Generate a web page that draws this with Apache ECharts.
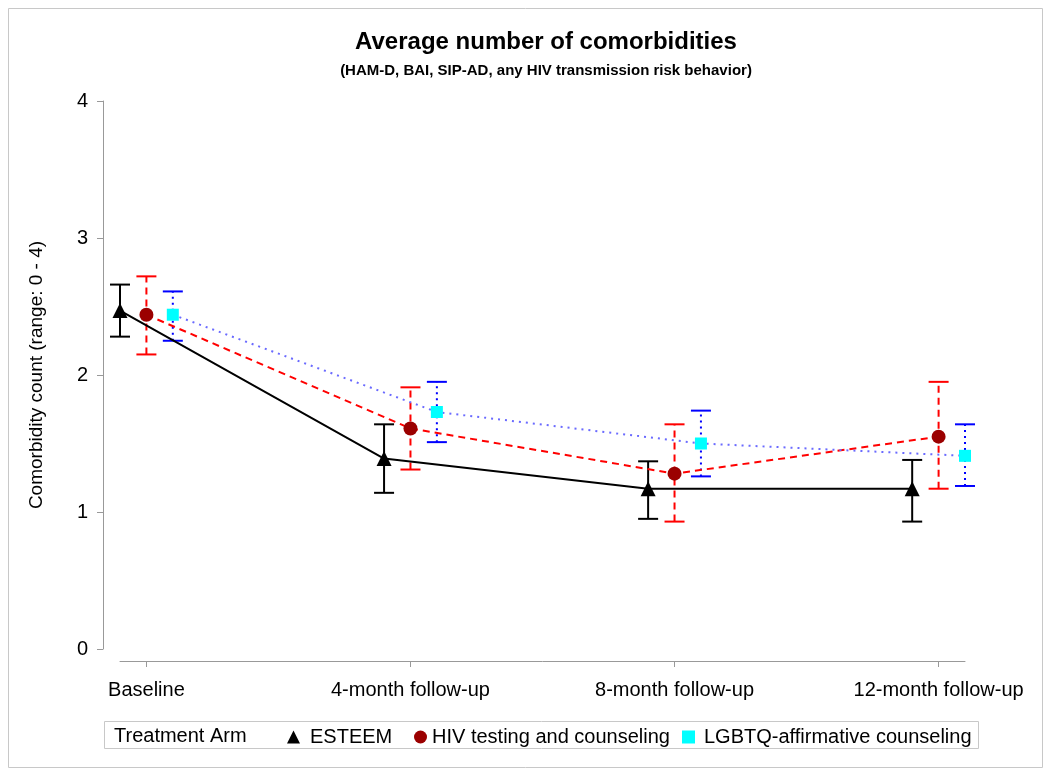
<!DOCTYPE html>
<html>
<head>
<meta charset="utf-8">
<script src="https://cdn.jsdelivr.net/npm/echarts@6/dist/echarts.min.js"></script>
<style>html,body{margin:0;padding:0;background:#fff}#c{width:1050px;height:775px}</style>
</head>
<body>
<div id="c"></div>
<script>
var categories = ['Baseline', '4-month follow-up', '8-month follow-up', '12-month follow-up'];
var yTicks = [0, 1, 2, 3, 4];

var esteemMean = [2.47, 1.39, 1.17, 1.17];
var esteemLow  = [2.28, 1.14, 0.95, 0.93];
var esteemHigh = [2.66, 1.64, 1.37, 1.38];

var hivMean = [2.44, 1.61, 1.28, 1.55];
var hivLow  = [2.15, 1.31, 0.93, 1.17];
var hivHigh = [2.72, 1.91, 1.64, 1.95];

var lgbtMean = [2.44, 1.73, 1.50, 1.41];
var lgbtLow  = [2.25, 1.51, 1.26, 1.19];
var lgbtHigh = [2.61, 1.95, 1.74, 1.64];

var seriesNames = ['ESTEEM', 'HIV testing and counseling', 'LGBTQ-affirmative counseling'];
var dodge = [-0.1, 0, 0.1];

var FONT = '"Liberation Sans", Arial, sans-serif';

function pts(mean, k) { return mean.map(function (v, i) { return [i + dodge[k], v]; }); }
function bars(low, high, k) { return low.map(function (v, i) { return [i + dodge[k], v, high[i]]; }); }

function errSeries(name, low, high, k, color, dash) {
  return {
    type: 'custom', name: name + ' CI', silent: true, clip: false, z: 2,
    data: bars(low, high, k),
    renderItem: function (params, api) {
      var x = api.value(0);
      var lo = api.coord([x, api.value(1)]);
      var hi = api.coord([x, api.value(2)]);
      var w = 10;
      var st = { stroke: color, lineWidth: 2, lineDash: dash };
      return {
        type: 'group',
        children: [
          { type: 'line', shape: { x1: lo[0], y1: lo[1], x2: hi[0], y2: hi[1] }, style: st },
          { type: 'line', shape: { x1: lo[0] - w, y1: lo[1], x2: lo[0] + w, y2: lo[1] }, style: { stroke: color, lineWidth: 2 } },
          { type: 'line', shape: { x1: hi[0] - w, y1: hi[1], x2: hi[0] + w, y2: hi[1] }, style: { stroke: color, lineWidth: 2 } }
        ]
      };
    }
  };
}

function legendItem(name, icon, color, left, pad) {
  return {
    left: left, top: 722, itemWidth: 13, itemHeight: 13,
    data: [{ name: name, icon: icon, itemStyle: { color: color } }],
    textStyle: { fontFamily: FONT, fontSize: 20, color: '#000', padding: [0, 0, 0, pad] },
    selectedMode: false
  };
}

var chart = echarts.init(document.getElementById('c'), null, { renderer: 'canvas' });
chart.setOption({
  backgroundColor: '#fff',
  animation: false,
  textStyle: { fontFamily: FONT },
  title: [
    { text: 'Average number of comorbidities', left: 541, top: 25, textAlign: 'center',
      textStyle: { fontFamily: FONT, fontWeight: 'bold', fontSize: 24, color: '#000' } },
    { text: '(HAM-D, BAI, SIP-AD, any HIV transmission risk behavior)', left: 541, top: 58, textAlign: 'center',
      textStyle: { fontFamily: FONT, fontWeight: 'bold', fontSize: 15, color: '#000' } }
  ],
  graphic: [
    { type: 'rect', shape: { x: 8.5, y: 8.5, width: 1034, height: 759 }, style: { fill: 'none', stroke: '#c8c8c8', lineWidth: 1 }, silent: true },
    { type: 'rect', shape: { x: 104.5, y: 721.5, width: 874, height: 27 }, style: { fill: '#fff', stroke: '#c8c8c8', lineWidth: 1 }, silent: true, z: -1 },
    { type: 'text', x: 114, y: 736, style: { text: 'Treatment Arm', fontFamily: FONT, fontSize: 20, fill: '#000', verticalAlign: 'middle' }, silent: true }
  ],
  legend: [
    legendItem('ESTEEM', 'triangle', '#000', 282, 5),
    legendItem('HIV testing and counseling', 'circle', '#9b0000', 409, 0),
    legendItem('LGBTQ-affirmative counseling', 'rect', '#00ffff', 677, 4)
  ],
  grid: { left: 120, right: 85, top: 101, bottom: 126 },
  xAxis: {
    type: 'value', min: -0.1, max: 3.1, offset: 12,
    splitLine: { show: false },
    axisLine: { show: true, onZero: false, lineStyle: { color: '#999', width: 1 } },
    axisTick: { show: true, customValues: [0, 1, 2, 3], length: 6, lineStyle: { color: '#999' } },
    axisLabel: { customValues: [0, 1, 2, 3], margin: 19, fontFamily: FONT, fontSize: 20, color: '#000',
      formatter: function (v) { return categories[Math.round(v)]; } }
  },
  yAxis: {
    type: 'value', min: yTicks[0], max: yTicks[yTicks.length - 1], interval: 1, offset: 17,
    name: 'Comorbidity count (range: 0 - 4)', nameLocation: 'middle', nameGap: 57, nameRotate: 90,
    nameTextStyle: { fontFamily: FONT, fontSize: 19, color: '#000' },
    splitLine: { show: false },
    axisLine: { show: true, onZero: false, lineStyle: { color: '#999', width: 1 } },
    axisTick: { show: true, length: 6, lineStyle: { color: '#999' } },
    axisLabel: { margin: 15, fontFamily: FONT, fontSize: 20, color: '#000' }
  },
  series: [
    errSeries('ESTEEM', esteemLow, esteemHigh, 0, '#000', null),
    errSeries('HIV testing and counseling', hivLow, hivHigh, 1, '#ff0000', [7, 5]),
    errSeries('LGBTQ-affirmative counseling', lgbtLow, lgbtHigh, 2, '#0000ff', [2, 4]),
    { type: 'line', name: 'ESTEEM', data: pts(esteemMean, 0), clip: false, z: 3,
      symbol: 'triangle', symbolSize: 15, itemStyle: { color: '#000' },
      lineStyle: { color: '#000', width: 2, type: 'solid' } },
    { type: 'line', name: 'HIV testing and counseling', data: pts(hivMean, 1), clip: false, z: 3,
      symbol: 'circle', symbolSize: 14, itemStyle: { color: '#9b0000' },
      lineStyle: { color: '#ff0000', width: 2, type: [7, 5] } },
    { type: 'line', name: 'LGBTQ-affirmative counseling', data: pts(lgbtMean, 2), clip: false, z: 3,
      symbol: 'rect', symbolSize: 12, itemStyle: { color: '#00ffff' },
      lineStyle: { color: '#6a6aff', width: 2, type: [2, 5] } }
  ]
});
</script>
</body>
</html>
